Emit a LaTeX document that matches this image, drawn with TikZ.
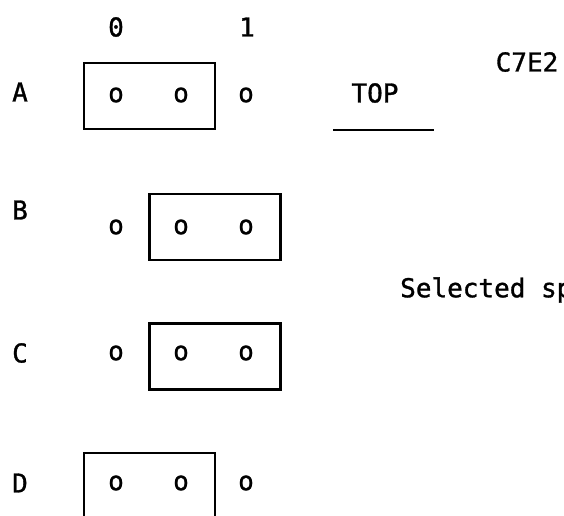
\documentclass[tikz,border=0pt]{standalone}
\usepackage{fontspec}
\setmainfont{DejaVu Sans Mono}[FakeBold=1.2]
\begin{document}
\begin{tikzpicture}[x=1pt,y=-1pt,
  txt/.style={inner sep=0pt,font=\fontsize{26}{26}\selectfont},
  pin/.style={inner sep=0pt,font=\fontsize{26}{26}\selectfont},
  frame/.style={draw,line width=2.4pt,inner sep=0pt,minimum width=131pt,minimum height=66pt}]
\useasboundingbox (0,0) rectangle (564,515);
% column headings
\node[txt] (h0) at (116,27) {0};
\node[txt] (h1) at (247,27) {1};
% row labels
\node[txt] (la) at (20,92) {A};
\node[txt] (lb) at (20,210) {B};
\node[txt] (lc) at (20,353) {C};
\node[txt] (ld) at (20,483) {D};
% pin rows
\foreach \r/\y in {a/95,b/227,c/353,d/483}{
  \node[pin] (\r0) at (116,\y) {o};
  \node[pin] (\r1) at (181,\y) {o};
  \node[pin] (\r2) at (246,\y) {o};
}
% selection frames
\node[frame] (fa) at (149.5,96) {};
\node[frame] (fb) at (215,227) {};
\node[frame] (fc) at (215,356.5) {};
\draw[line width=2.4pt] (84,540) -- (84,453) -- (215,453) -- (215,540);
% side notes
\node[txt] (top) at (375,93) {TOP};
\coordinate (ul) at (333,130);
\coordinate (ur) at (434,130);
\draw[line width=2pt] (ul) -- (ur);
\node[txt] (code) at (527,62) {C7E2};
\node[txt,anchor=west] (sel) at (400,290) {Selected sp};
\end{tikzpicture}
\end{document}
